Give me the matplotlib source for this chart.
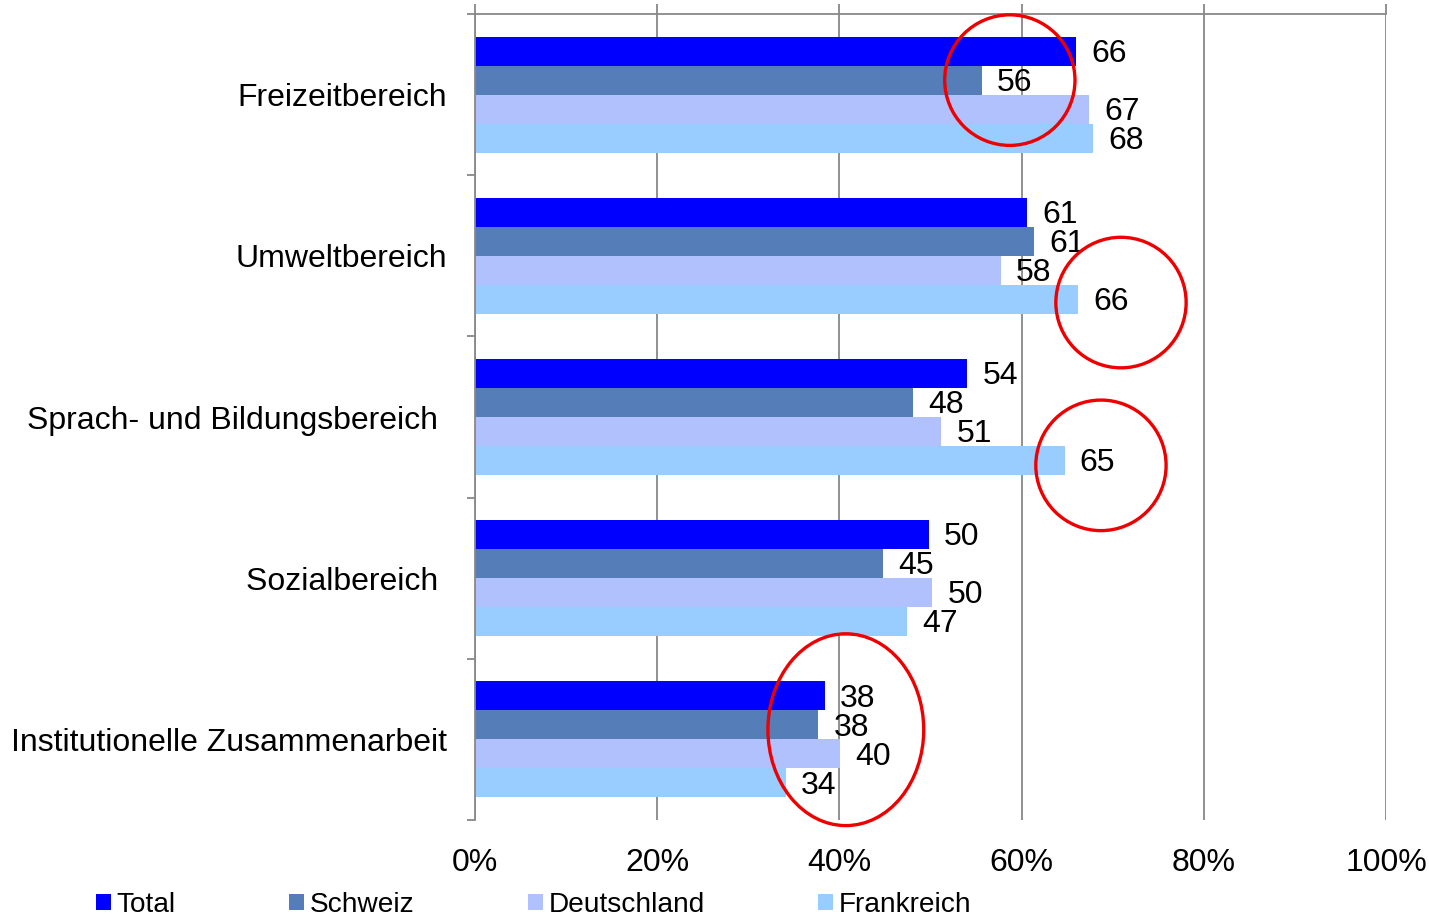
import matplotlib
matplotlib.use("Agg")
import matplotlib.pyplot as plt
from matplotlib.patches import Ellipse, Patch
import numpy as np

plt.rcParams['font.family'] = ['Liberation Sans', 'DejaVu Sans']

categories = ["Freizeitbereich", "Umweltbereich", "Sprach- und Bildungsbereich ",
              "Sozialbereich ", "Institutionelle Zusammenarbeit"]
series = ["Total", "Schweiz", "Deutschland", "Frankreich"]
colors = ["#0000FF", "#557EB9", "#B0C1FD", "#99CCFF"]

total = [66.0, 60.6, 54.0, 49.8, 38.4]
schweiz = [55.6, 61.4, 48.1, 44.8, 37.7]
deutschland = [67.4, 57.7, 51.2, 50.2, 40.1]
frankreich = [67.8, 66.2, 64.7, 47.4, 34.1]
values = [total, schweiz, deutschland, frankreich]

xticks = [0, 20, 40, 60, 80, 100]
xticklabels = ["0%", "20%", "40%", "60%", "80%", "100%"]

# highlight ellipses: (x centre %, y centre category units, width %, height category units)
highlights = [(58.7, -0.09, 14.3, 0.81),
              (70.9, 1.29, 14.3, 0.81),
              (68.7, 2.30, 14.3, 0.81),
              (40.7, 3.94, 17.1, 1.19)]

FS = 23

fig = plt.figure(figsize=(14.29, 9.18), dpi=100)
ax = fig.add_axes([0.3324, 0.1068, 0.6376, 0.8779])

n = len(series)
h = 0.18
y = np.arange(len(categories))
for i, (name, vals, c) in enumerate(zip(series, values, colors)):
    pos = y + (i - (n - 1) / 2) * h
    ax.barh(pos, vals, height=h, color=c, label=name, zorder=2)
    for p, v in zip(pos, vals):
        ax.annotate(f"{round(v)}", xy=(v, p), xytext=(11, -2), textcoords="offset points",
                    va="center", ha="left", fontsize=FS, zorder=4)

ax.set_xlim(0, 100)
ax.set_ylim(len(categories) - 0.5, -0.5)

ax.set_xticks(xticks)
ax.set_xticklabels(xticklabels, fontsize=FS)
ax.tick_params(axis='x', top=True, bottom=False, labeltop=False, labelbottom=True,
               length=7, width=1.3, color="#888888", pad=13)
ax.grid(axis='x', color="#888888", linewidth=1.3, zorder=0)

ax.set_yticks(y)
ax.set_yticklabels(categories, fontsize=FS)
ax.set_yticks(np.arange(len(categories) + 1) - 0.5, minor=True)
ax.tick_params(axis='y', which='major', length=0, pad=20)
ax.tick_params(axis='y', which='minor', length=6, width=1.3, color="#888888", left=True)

for s in ["bottom", "right"]:
    ax.spines[s].set_visible(False)
for s in ["top", "left"]:
    ax.spines[s].set_color("#888888")
    ax.spines[s].set_linewidth(1.3)
ax.set_axisbelow(True)

for (cx, cy, w, hh) in highlights:
    e = Ellipse((cx, cy), w, hh, fill=False, edgecolor="#EE0000", linewidth=2.4,
                clip_on=False, zorder=5)
    ax.add_patch(e)

handles = [Patch(facecolor=c, edgecolor="none") for c in colors]
fig.legend(handles, series, loc="center left", bbox_to_anchor=(96 / 1429, 1 - 905 / 918),
           ncol=4, frameon=False, fontsize=20.2, handlelength=0.53, handleheight=0.53,
           handletextpad=0.2, columnspacing=4.05, borderpad=0, borderaxespad=0)

fig.savefig("out.png", dpi=100)
